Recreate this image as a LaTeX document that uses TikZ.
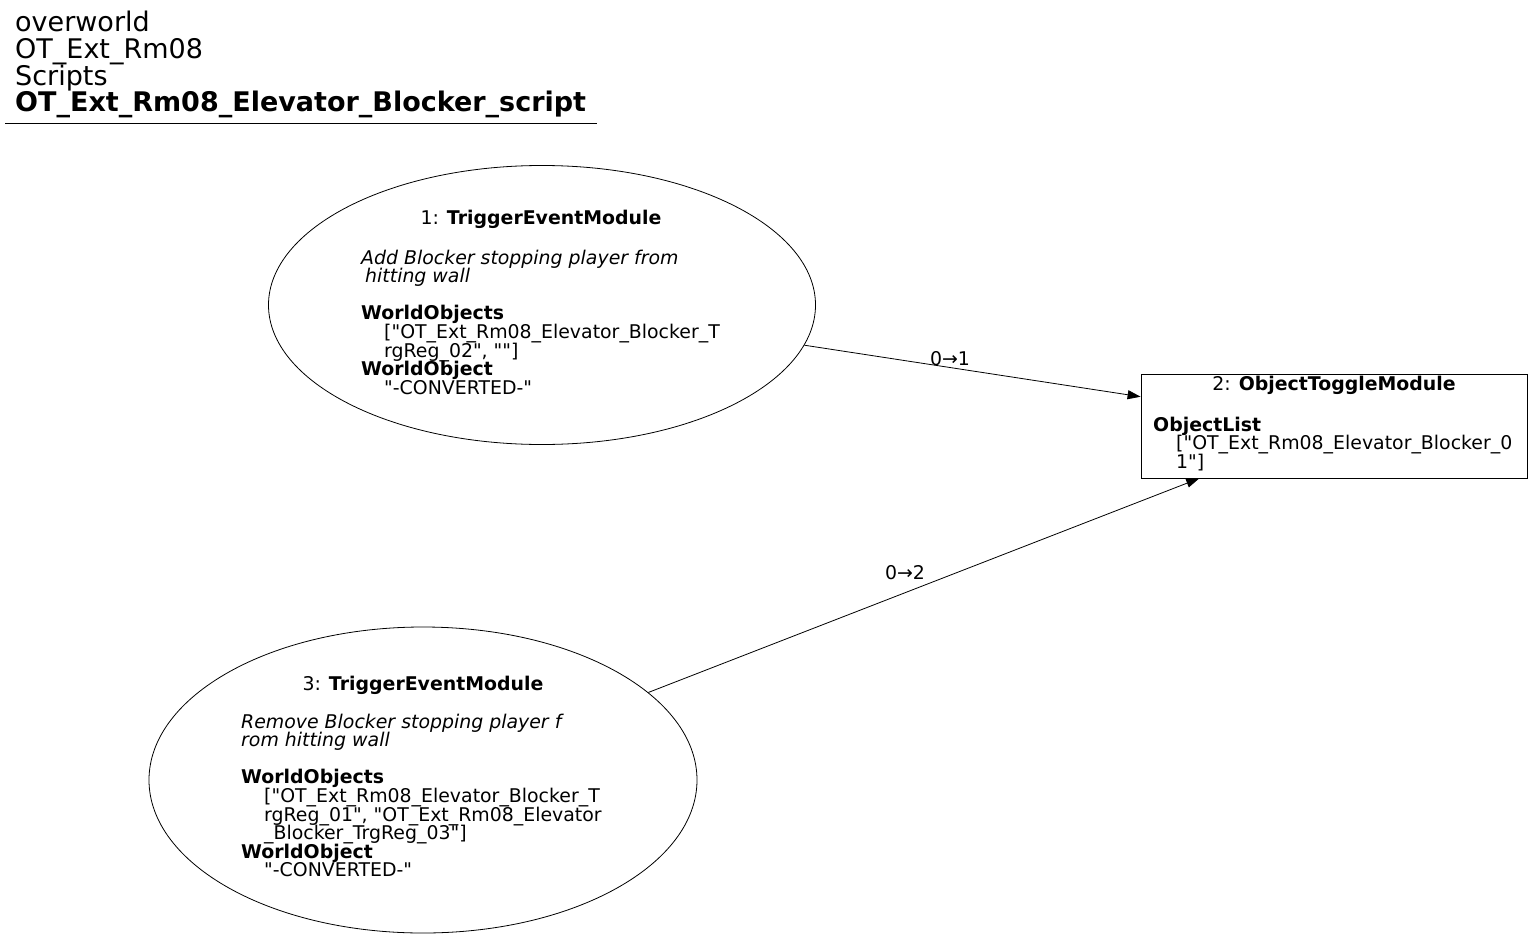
\documentclass[tikz,border=0pt]{standalone}
\usepackage{fontspec}
\setmainfont{DejaVu Sans}[Ligatures=TeXOff]
\usetikzlibrary{shapes.geometric,arrows.meta}
\begin{document}
\setlength{\lineskiplimit}{-50pt}%
\begin{tikzpicture}[x=1pt,y=-1pt,
  ell/.style={draw, ellipse, inner sep=0pt, line width=0.8pt},
  mod/.style={draw, rectangle, inner sep=0pt, line width=0.8pt},
  body/.style={anchor=north west, inner sep=0pt, align=left, font=\fontsize{18.9}{18.6}\selectfont},
  ttl/.style={inner sep=0pt, font=\fontsize{18.9}{18.6}\selectfont},
  elabel/.style={inner sep=0pt, font=\fontsize{18.9}{18.6}\selectfont},
  hdr/.style={anchor=north west, inner sep=0pt, align=left, font=\fontsize{27}{26.7}\selectfont},
  conn/.style={-{Triangle[length=13pt,width=9pt]}, line width=0.8pt}]
\useasboundingbox (0,0) rectangle (1533,939);

% header
\node[hdr] (hdr) at (15,11) {overworld\\OT\_Ext\_Rm08\\Scripts\\\textbf{OT\_Ext\_Rm08\_Elevator\_Blocker\_script}};
\draw[line width=0.8pt] (5,123) -- (597,123);

% module 1
\node[ell, minimum width=547pt, minimum height=279pt] (m1) at (542,305) {};
\node[ttl] (t1) at (541,219) {1: \textbf{TriggerEventModule}};
\node[body] (b1) at (361,249.5) {\textit{Add Blocker stopping player from}\\
\textit{\hspace*{4pt}hitting wall}\\
\mbox{}\\
\textbf{WorldObjects}\\
\hspace*{23pt}["OT\_Ext\_Rm08\_Elevator\_Blocker\_T\\
\hspace*{23pt}rgReg\_02", ""]\\
\textbf{WorldObject}\\
\hspace*{23pt}"-CONVERTED-"};

% module 2
\node[mod, minimum width=386pt, minimum height=104pt] (m2) at (1334,426) {};
\node[ttl] (t2) at (1334,385) {2: \textbf{ObjectToggleModule}};
\node[body] (b2) at (1153,416.5) {\textbf{ObjectList}\\
\hspace*{23pt}["OT\_Ext\_Rm08\_Elevator\_Blocker\_0\\
\hspace*{23pt}1"]};

% module 3
\node[ell, minimum width=548pt, minimum height=306pt] (m3) at (423,780) {};
\node[ttl] (t3) at (423,685) {3: \textbf{TriggerEventModule}};
\node[body] (b3) at (241,713.5) {\textit{Remove Blocker stopping player f}\\
\textit{rom hitting wall}\\
\mbox{}\\
\textbf{WorldObjects}\\
\hspace*{23pt}["OT\_Ext\_Rm08\_Elevator\_Blocker\_T\\
\hspace*{23pt}rgReg\_01", "OT\_Ext\_Rm08\_Elevator\\
\hspace*{23pt}\_Blocker\_TrgReg\_03"]\\
\textbf{WorldObject}\\
\hspace*{23pt}"-CONVERTED-"};

% connectors
\draw[conn] (m1) -- (m2);
\draw[conn] (m3) -- (m2);
\node[elabel] (l1) at (950,359) {0→1};
\node[elabel] (l2) at (905,573) {0→2};
\end{tikzpicture}
\end{document}
